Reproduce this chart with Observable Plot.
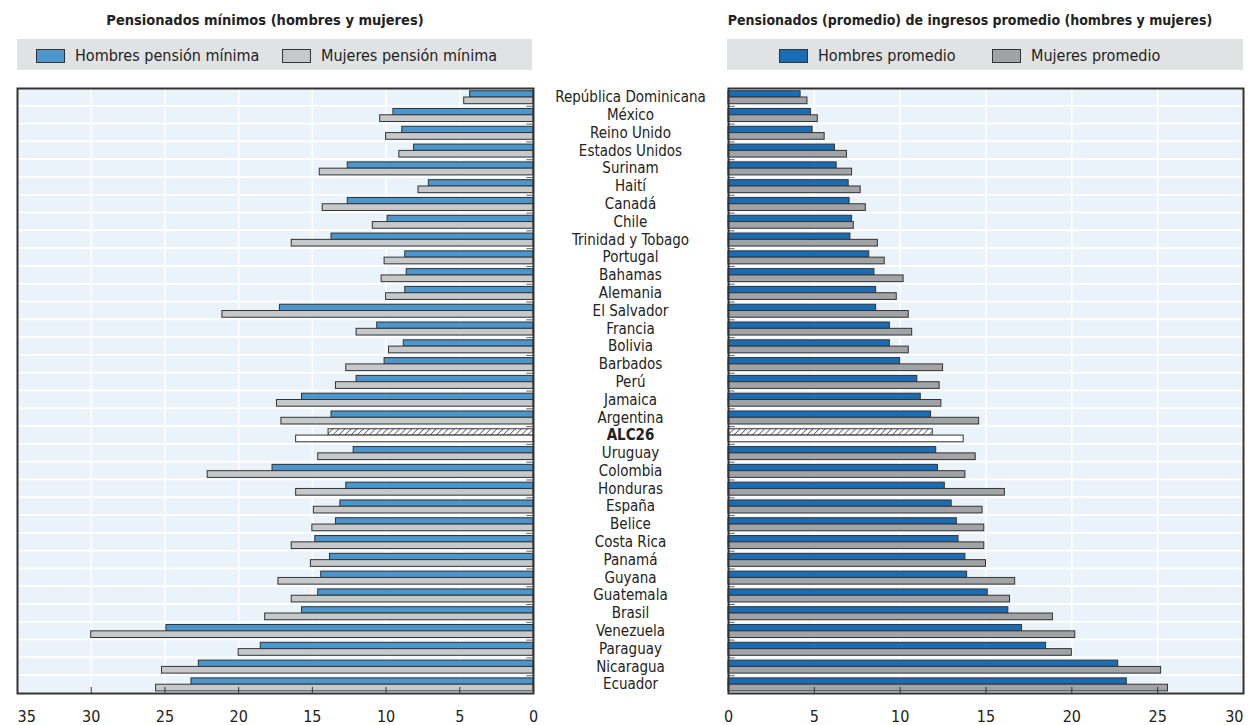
<!DOCTYPE html>
<html>
<head>
<meta charset="utf-8">
<script src="https://cdn.jsdelivr.net/npm/d3@7"></script>
<script src="https://cdn.jsdelivr.net/npm/@observablehq/plot@0.6"></script>
<style>
  html, body { margin: 0; padding: 0; background: #fff; }
  #page { position: relative; width: 1252px; height: 725px; overflow: hidden;
          font-family: "Liberation Sans Narrow", "Arial Narrow", "DejaVu Sans Condensed", "Liberation Sans", sans-serif; color: #222; }
  .title { position: absolute; top: 12px; font-weight: bold; font-size: 14.5px; white-space: nowrap; transform: translateX(-50%); }
  .band { position: absolute; top: 39px; height: 31px; background: #e1e2e4; }
  .leg { position: absolute; top: 46px; display: flex; align-items: center; font-size: 16px; white-space: nowrap; }
  .sw { width: 27px; height: 12px; border: 1.5px solid #333; margin-right: 10px; }
  .plot { position: absolute; top: 80px; }
</style>
</head>
<body>
<div id="page">
  <div class="title" style="left:265px">Pensionados mínimos (hombres y mujeres)</div>
  <div class="title" style="left:970px; font-size:14px">Pensionados (promedio) de ingresos promedio (hombres y mujeres)</div>
  <div class="band" style="left:17px; width:515px"></div>
  <div class="band" style="left:727px; width:516px"></div>
  <div class="leg" style="left:36px"><div class="sw" style="background:#4a96cd"></div>Hombres pensión mínima</div>
  <div class="leg" style="left:282px"><div class="sw" style="background:#c7c8ca"></div>Mujeres pensión mínima</div>
  <div class="leg" style="left:779px"><div class="sw" style="background:#1a6db5"></div>Hombres promedio</div>
  <div class="leg" style="left:992px"><div class="sw" style="background:#a2a3a6"></div>Mujeres promedio</div>
  <div id="left" class="plot" style="left:0px"></div>
  <div id="right" class="plot" style="left:535px"></div>
</div>
<script>
const countries = ["República Dominicana","México","Reino Unido","Estados Unidos","Surinam","Haití","Canadá","Chile","Trinidad y Tobago","Portugal","Bahamas","Alemania","El Salvador","Francia","Bolivia","Barbados","Perú","Jamaica","Argentina","ALC26","Uruguay","Colombia","Honduras","España","Belice","Costa Rica","Panamá","Guyana","Guatemala","Brasil","Venezuela","Paraguay","Nicaragua","Ecuador"];
const hombresMinima = [4.3,9.5,8.9,8.1,12.6,7.1,12.6,9.9,13.7,8.7,8.6,8.7,17.2,10.6,8.8,10.1,12.0,15.7,13.7,13.9,12.2,17.7,12.7,13.1,13.4,14.8,13.8,14.4,14.6,15.7,24.9,18.5,22.7,23.2];
const mujeresMinima = [4.7,10.4,10.0,9.1,14.5,7.8,14.3,10.9,16.4,10.1,10.3,10.0,21.1,12.0,9.8,12.7,13.4,17.4,17.1,16.1,14.6,22.1,16.1,14.9,15.0,16.4,15.1,17.3,16.4,18.2,30.0,20.0,25.2,25.6];
const hombresPromedio = [4.2,4.8,4.9,6.2,6.3,7.0,7.05,7.2,7.1,8.2,8.5,8.6,8.6,9.4,9.4,10.0,11.0,11.2,11.8,11.9,12.1,12.2,12.6,13.0,13.3,13.4,13.8,13.9,15.1,16.3,17.1,18.5,22.7,23.2];
const mujeresPromedio = [4.6,5.2,5.6,6.9,7.2,7.7,8.0,7.3,8.7,9.1,10.2,9.8,10.5,10.7,10.5,12.5,12.3,12.4,14.6,13.7,14.4,13.8,16.1,14.8,14.9,14.9,15.0,16.7,16.4,18.9,20.2,20.0,25.2,25.6];
const leftTicks = [35,30,25,20,15,10,5,0];
const rightTicks = [0,5,10,15,20,25,30];
const leftDomain = [0,35];
const rightDomain = [0,30];
const avgLabel = "ALC26";

const FONT = '"Liberation Sans Narrow", "Arial Narrow", "DejaVu Sans Condensed", "Liberation Sans", sans-serif';
const rows = countries.map((c,i) => ({c, hMin: hombresMinima[i], mMin: mujeresMinima[i], hProm: hombresPromedio[i], mProm: mujeresPromedio[i]}));
const isAvg = d => d.c === avgLabel;
const notAvg = d => d.c !== avgLabel;

const H = 645, MT = 8, MB = 32;
const plotH = H - MT - MB;
const bw = plotH / countries.length;
const BG = "#ebf3fa";

function panel({width, marginLeft, marginRight, domain, reverse, ticks, hKey, mKey, hColor, mColor, hatchId, labels}) {
  const inner = ticks.filter(t => t !== domain[0] && t !== domain[1]);
  const endTick = [domain[1]];
  const marks = [
    Plot.frame({fill: BG}),
    Plot.barX(rows, {y: "c", x1: () => domain[0], x2: () => domain[1], fill: BG, stroke: "white", strokeWidth: 1.6}),
    Plot.gridX(inner, {stroke: "white", strokeOpacity: 1, strokeWidth: 1.6}),
    Plot.ruleY(rows.slice(1), {y: "c", x1: () => 0, x2: () => domain[1] * 0.013, dy: -bw/2, stroke: "#666", strokeWidth: 1}),
    Plot.barX(rows, {filter: notAvg, y: "c", x: hKey, fill: hColor, stroke: "#333", strokeWidth: 1, insetTop: 2.7, insetBottom: bw - 9.0}),
    Plot.barX(rows, {filter: notAvg, y: "c", x: mKey, fill: mColor, stroke: "#333", strokeWidth: 1, insetTop: 9.0, insetBottom: 2.1}),
    Plot.barX(rows, {filter: isAvg, y: "c", x: hKey, fill: `url(#${hatchId})`, stroke: "#333", strokeWidth: 1, insetTop: 2.7, insetBottom: bw - 9.0}),
    Plot.barX(rows, {filter: isAvg, y: "c", x: mKey, fill: "white", stroke: "#333", strokeWidth: 1, insetTop: 9.0, insetBottom: 2.1}),
    Plot.ruleX(inner, {x: d => d, insetTop: plotH - 6, stroke: "#333", strokeWidth: 1}),
    Plot.frame({stroke: "#333", strokeWidth: 2}),
    Plot.axisX(ticks.filter(t => t !== domain[1]), {anchor: "bottom", tickSize: 0, tickPadding: 17, fontSize: 16, fill: "#222"}),
    Plot.axisX(endTick, {anchor: "bottom", tickSize: 0, tickPadding: 17, fontSize: 16, fill: "#222", textAnchor: reverse ? "start" : "end"})
  ];
  if (labels) {
    marks.push(Plot.text(rows, {filter: notAvg, y: "c", text: "c", frameAnchor: "left", dx: -98, textAnchor: "middle", fontSize: 15, fill: "#222"}));
    marks.push(Plot.text(rows, {filter: isAvg, y: "c", text: "c", frameAnchor: "left", dx: -98, textAnchor: "middle", fontSize: 15, fontWeight: "bold", fill: "#222"}));
  }
  const svg = Plot.plot({
    width, height: H, marginTop: MT, marginBottom: MB, marginLeft, marginRight,
    style: {fontFamily: FONT, background: "transparent", overflow: "visible"},
    x: {domain, reverse, axis: null},
    y: {domain: countries, padding: 0, round: false, axis: null},
    marks
  });
  const ns = "http://www.w3.org/2000/svg";
  const defs = document.createElementNS(ns, "defs");
  defs.innerHTML = `<pattern id="${hatchId}" patternUnits="userSpaceOnUse" width="4.3" height="4.3" patternTransform="rotate(45)"><rect width="4.3" height="4.3" fill="white"/><line x1="0" y1="0" x2="0" y2="4.3" stroke="#333" stroke-width="1.3"/></pattern>`;
  svg.insertBefore(defs, svg.firstChild);
  return svg;
}

document.getElementById("left").appendChild(panel({
  width: 535, marginLeft: 17, marginRight: 2, domain: leftDomain, reverse: true, ticks: leftTicks,
  hKey: "hMin", mKey: "mMin", hColor: "#4a96cd", mColor: "#c7c8ca", hatchId: "hatchL", labels: false
}));
document.getElementById("right").appendChild(panel({
  width: 717, marginLeft: 193, marginRight: 9, domain: rightDomain, reverse: false, ticks: rightTicks,
  hKey: "hProm", mKey: "mProm", hColor: "#1a6db5", mColor: "#a2a3a6", hatchId: "hatchR", labels: true
}));
</script>
</body>
</html>
